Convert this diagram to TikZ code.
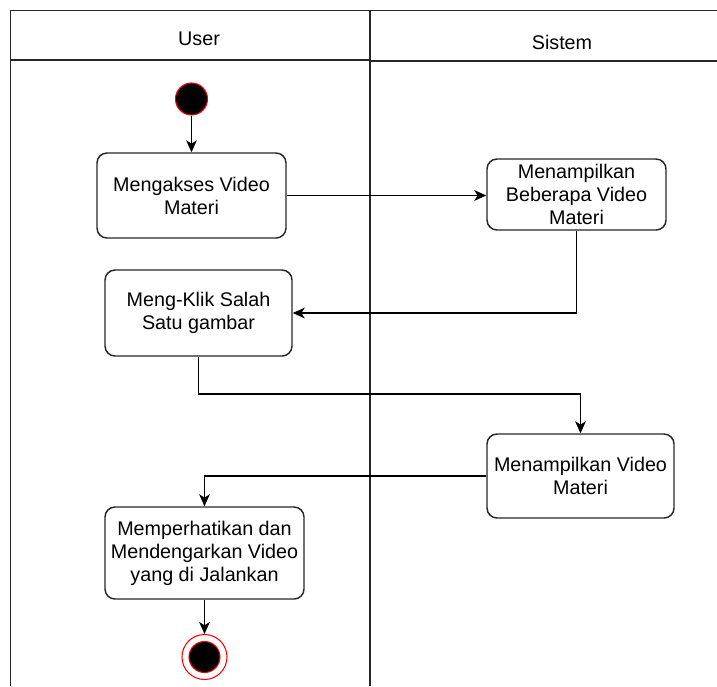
\documentclass[tikz,border=0pt]{standalone}
\usepackage{fontspec}
\setmainfont{Liberation Sans}
\usetikzlibrary{arrows.meta}
\begin{document}
\begin{tikzpicture}[x=0.75pt,y=-0.75pt,
  lane/.style={draw=black!85, line width=1.1pt},
  act/.style={draw=black!85, line width=1.1pt, rounded corners=7.5pt,
    align=center, inner sep=0pt, font=\fontsize{14.8}{17.3}\selectfont},
  hdr/.style={font=\fontsize{14.8}{17.3}\selectfont},
  flow/.style={-{Stealth[length=9pt,width=8pt,inset=2.5pt]}, line width=1.2pt},
  startnode/.style={circle, fill=black, draw=red, line width=0.8pt,
    minimum size=24pt, inner sep=0pt},
  endring/.style={circle, fill=white, draw=red, line width=0.8pt,
    minimum size=33.75pt, inner sep=0pt},
  enddot/.style={circle, fill=black, draw=red, line width=0.8pt,
    minimum size=23.25pt, inner sep=0pt}]
\useasboundingbox (0,0) rectangle (717,686);

% swimlane frame
\draw[lane] (717,10.5) -- (10.5,10.5) -- (10.5,686);
\draw[lane] (370,10.5) -- (370,686);
\draw[lane] (10.5,60) -- (370,60);
\draw[lane] (370,61) -- (717,61);
\node[hdr] (huser) at (199,39) {User};
\node[hdr] (hsis) at (562,42) {Sistem};

% activities
\node[startnode] (start) at (191.5,99) {};
\node[act, minimum width=141.75pt, minimum height=63.75pt] (a1) at (191.5,195.5)
  {Mengakses Video\\Materi};
\node[act, minimum width=134.25pt, minimum height=53.25pt] (a2) at (576.5,194.5)
  {Menampilkan\\Beberapa Video\\Materi};
\node[act, minimum width=140.25pt, minimum height=64.5pt] (a3) at (198.5,313)
  {Meng-Klik Salah\\Satu gambar};
\node[act, minimum width=140.25pt, minimum height=63pt] (a4) at (580.5,476)
  {Menampilkan Video\\Materi};
\node[act, minimum width=149.25pt, minimum height=69pt] (a5) at (204.5,553)
  {Memperhatikan dan\\Mendengarkan Video\\yang di Jalankan};
\node[endring] (fin) at (204.5,657) {};
\node[enddot] (findot) at (fin.center) {};

% control flow
\draw[flow] (start) -- (a1);
\draw[flow] (a1.east) -- (a1.east -| a2.west);
\draw[flow] (a2.south) |- (a3.east);
\draw[flow] (a3.south) -- ++(0,37) -| (a4.north);
\draw[flow] (a4.west) -| (a5.north);
\draw[flow] (a5.south) -- (fin.north);
\end{tikzpicture}
\end{document}
